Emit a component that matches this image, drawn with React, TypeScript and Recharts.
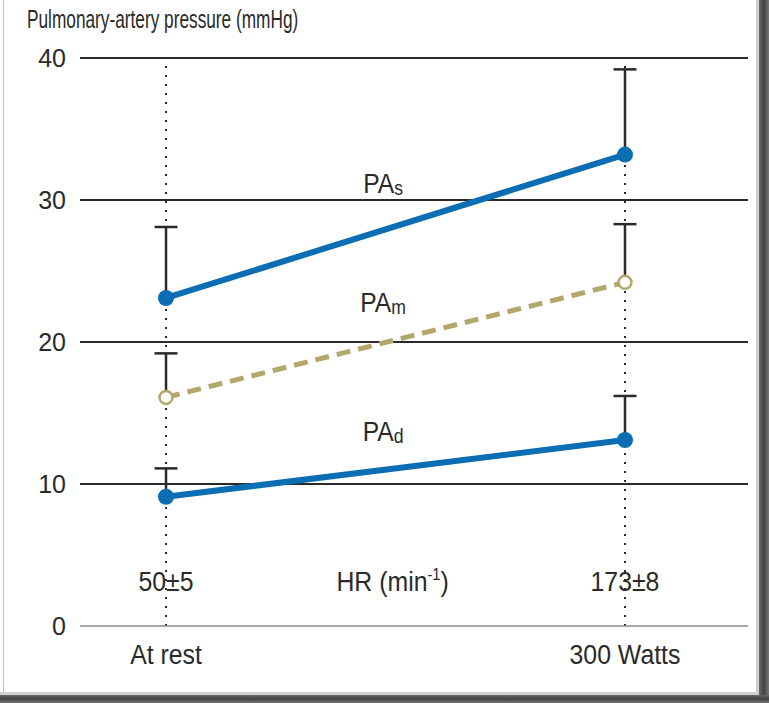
import React from "react";
import {
  ComposedChart,
  Line,
  XAxis,
  YAxis,
  ReferenceLine,
  ReferenceDot,
  Label
} from "recharts";

const conditions = ["At rest", "300 Watts"];
const heartRates = ["50\u00b15", "173\u00b18"];
const paSystolic = [23.1, 33.2];
const paSystolicSd = [5.0, 6.0];
const paMean = [16.1, 24.2];
const paMeanSd = [3.1, 4.1];
const paDiastolic = [9.1, 13.1];
const paDiastolicSd = [2.0, 3.1];
const yTicks = [0, 10, 20, 30, 40];
const gridValues = [10, 20, 30, 40];

const FONT = "'Liberation Sans', Arial, sans-serif";
const BLUE = "#0b6db4";
const KHAKI = "#b3a76c";
const INK = "#2a2a2a";
const CAP = 0.025;

const rows = conditions.map((c, i) => ({
  x: i,
  label: c,
  pas: paSystolic[i],
  pam: paMean[i],
  pad: paDiastolic[i]
}));

const errorSets = [
  { key: "pas", values: paSystolic, sd: paSystolicSd },
  { key: "pam", values: paMean, sd: paMeanSd },
  { key: "pad", values: paDiastolic, sd: paDiastolicSd }
];

const errorLines = errorSets.flatMap((set) =>
  set.values.flatMap((v, i) => {
    const top = v + set.sd[i];
    return [
      { id: `${set.key}-stem-${i}`, data: [{ x: i, v }, { x: i, v: top }] },
      {
        id: `${set.key}-cap-${i}`,
        data: [{ x: i - CAP, v: top }, { x: i + CAP, v: top }]
      }
    ];
  })
);

const seriesLabels = [
  { name: "PA", sub: "s", y: 31.2 },
  { name: "PA", sub: "m", y: 22.8 },
  { name: "PA", sub: "d", y: 13.7 }
];

// the original type is a narrow face, squeeze it horizontally
const squeeze = (x: number, k = 0.92) => `translate(${x} 0) scale(${k} 1) translate(${-x} 0)`;

function XTick(props: any) {
  const { x, y, payload } = props;
  const i = Math.round(payload.value);
  return (
    <g transform={squeeze(x)}>
      <text x={x} y={y - 35} textAnchor="middle" fontFamily={FONT} fontSize={27} fill={INK}>
        {heartRates[i]}
      </text>
      <text x={x} y={y + 38} textAnchor="middle" fontFamily={FONT} fontSize={27} fill={INK}>
        {conditions[i]}
      </text>
    </g>
  );
}

function HrLabel(props: any) {
  const { viewBox } = props;
  const cx = viewBox.x + viewBox.width * 0.468;
  return (
    <text
      x={cx}
      y={viewBox.y - 35}
      textAnchor="middle"
      fontFamily={FONT}
      fontSize={27}
      fill={INK}
      transform={squeeze(cx)}
    >
      HR (min
      <tspan fontSize={16} dy={-11}>-1</tspan>
      <tspan dy={11}>)</tspan>
    </text>
  );
}

function seriesLabel(name: string, sub: string) {
  return (props: any) => {
    const { viewBox } = props;
    const cx = viewBox.x + viewBox.width / 2;
    const cy = viewBox.y + viewBox.height / 2;
    return (
      <text
        x={cx}
        y={cy + 10}
        textAnchor="middle"
        fontFamily={FONT}
        fontSize={28}
        fill={INK}
        transform={squeeze(cx, 0.88)}
      >
        {name}
        <tspan fontSize={20} dy={2}>{sub}</tspan>
      </text>
    );
  };
}

export default function App() {
  return (
    <div style={{ position: "absolute", left: 0, top: 0, width: 769, height: 703, background: "#fff", overflow: "hidden" }}>
      <div style={{ position: "absolute", left: 3, top: 0, width: 1, height: 703, background: "#c4c4c4" }} />
      <div style={{ position: "absolute", left: 756, top: 0, width: 3, height: 703, background: "#cfcfcf" }} />
      <div style={{ position: "absolute", left: 759, top: 0, width: 10, height: 703, background: "linear-gradient(to right, #6a6a6a, #444, #777)" }} />
      <div style={{ position: "absolute", left: 0, top: 692, width: 759, height: 3, background: "#cfcfcf" }} />
      <div style={{ position: "absolute", left: 0, top: 695, width: 769, height: 8, background: "linear-gradient(to bottom, #6a6a6a, #444, #777)" }} />
      <div
        style={{
          position: "absolute",
          left: 27,
          top: 5,
          fontFamily: FONT,
          fontSize: 25,
          color: INK,
          whiteSpace: "nowrap",
          transform: "scaleX(0.69)",
          transformOrigin: "left top"
        }}
      >
        Pulmonary-artery pressure (mmHg)
      </div>
      <div style={{ position: "absolute", left: 0, top: 0 }}>
        <ComposedChart width={769} height={703} data={rows} margin={{ top: 58, right: 21, bottom: 0, left: 0 }}>
          <XAxis
            type="number"
            dataKey="x"
            domain={[-0.1874, 1.268]}
            ticks={[0, 1]}
            height={77}
            axisLine={{ stroke: "#8a8a8a", strokeWidth: 1.5 }}
            tickLine={false}
            tickSize={0}
            tickMargin={0}
            tick={<XTick />}
            allowDataOverflow
          >
            <Label content={<HrLabel />} position="insideTop" />
          </XAxis>
          <YAxis
            type="number"
            domain={[0, 40]}
            ticks={yTicks}
            width={80}
            axisLine={false}
            tickLine={false}
            tickSize={0}
            tickMargin={14}
            tick={{ fontFamily: FONT, fontSize: 25, fill: INK }}
          />
          {gridValues.map((g) => (
            <ReferenceLine key={g} y={g} stroke={INK} strokeWidth={2} />
          ))}
          {conditions.map((c, i) => (
            <ReferenceLine key={c} x={i} stroke={INK} strokeWidth={2} strokeDasharray="2 7" />
          ))}
          {errorLines.map((e) => (
            <Line
              key={e.id}
              data={e.data}
              dataKey="v"
              stroke={INK}
              strokeWidth={2.5}
              dot={false}
              legendType="none"
              isAnimationActive={false}
            />
          ))}
          <Line
            dataKey="pas"
            stroke={BLUE}
            strokeWidth={6}
            dot={{ r: 8, fill: BLUE, stroke: BLUE, strokeWidth: 0 }}
            isAnimationActive={false}
          />
          <Line
            dataKey="pam"
            stroke={KHAKI}
            strokeWidth={5}
            strokeDasharray="14 8"
            dot={{ r: 6.5, fill: "#fff", stroke: KHAKI, strokeWidth: 2.5, strokeDasharray: "0" }}
            isAnimationActive={false}
          />
          <Line
            dataKey="pad"
            stroke={BLUE}
            strokeWidth={6}
            dot={{ r: 8, fill: BLUE, stroke: BLUE, strokeWidth: 0 }}
            isAnimationActive={false}
          />
          {seriesLabels.map((s) => (
            <ReferenceDot
              key={s.sub}
              x={0.473}
              y={s.y}
              r={0}
              fill="none"
              stroke="none"
              label={{ content: seriesLabel(s.name, s.sub) }}
            />
          ))}
        </ComposedChart>
      </div>
    </div>
  );
}
